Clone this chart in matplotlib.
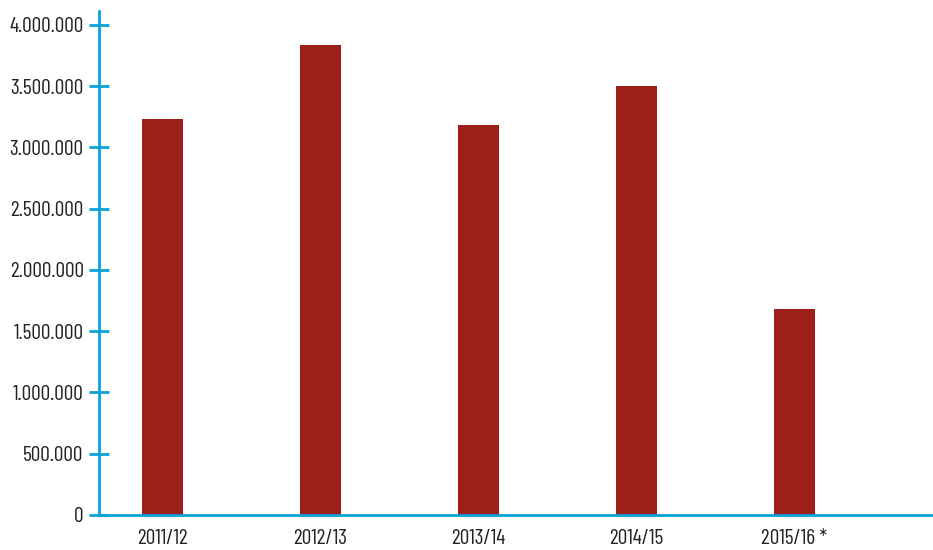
import matplotlib.pyplot as plt
from matplotlib.ticker import FuncFormatter

seasons = ['2011/12', '2012/13', '2013/14', '2014/15', '2015/16 *']
values = [3233000, 3837000, 3184000, 3502000, 1682000]
yticks = [0, 500000, 1000000, 1500000, 2000000, 2500000, 3000000, 3500000, 4000000]

bar_color = '#9c2019'
axis_color = '#0ba2d8'

plt.rcParams['font.family'] = ['Barlow Condensed', 'DejaVu Sans']

fig = plt.figure(figsize=(9.33, 5.5), dpi=100)
ax = fig.add_axes([99 / 933, 35 / 550, 833 / 933, 504 / 550])

ax.bar(range(len(seasons)), values, width=0.26, color=bar_color, zorder=2)

ax.set_xlim(-0.40, 4.87)
ax.set_ylim(0, 4114000)
ax.set_yticks(yticks)
ax.yaxis.set_major_formatter(FuncFormatter(lambda v, p: f'{int(v):,}'.replace(',', '.')))
ax.set_xticks(range(len(seasons)))
ax.set_xticklabels(seasons)

for side in ['top', 'right']:
    ax.spines[side].set_visible(False)
for side in ['left', 'bottom']:
    ax.spines[side].set_color(axis_color)
    ax.spines[side].set_linewidth(2)

ax.tick_params(axis='y', direction='inout', length=14, width=2, color=axis_color,
               labelsize=15.5, labelcolor='#222222', pad=4)
ax.tick_params(axis='x', length=0, labelsize=15.5, labelcolor='#222222', pad=10)

fig.savefig('out.png', dpi=100, facecolor='white')
